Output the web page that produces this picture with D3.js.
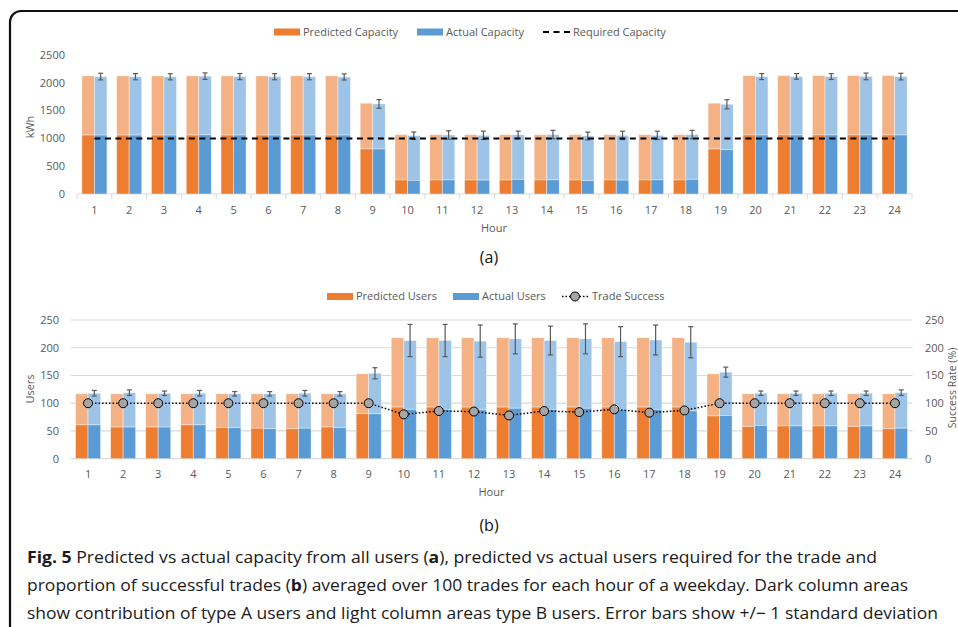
<!DOCTYPE html>
<html>
<head>
<meta charset="utf-8">
<script src="https://cdn.jsdelivr.net/npm/d3@7"></script>
<style>
  html, body { margin: 0; padding: 0; background: #fff; }
  svg { display: block; }
  text { font-family: "Open Sans", "Noto Sans", sans-serif; }
</style>
</head>
<body>
<svg id="fig" width="958" height="627"></svg>
<script>
// Hours of a weekday
const hours = d3.range(1, 25);

// (a) Capacity, kWh — type A (dark) and type B (light) contributions
const predCapA = [1060,1060,1060,1060,1060,1060,1060,1060,810,252,252,252,252,252,252,252,252,252,810,1062,1062,1062,1062,1062];
const predCapB = [1065,1065,1065,1065,1065,1065,1065,1065,823,815,815,815,815,815,815,815,815,815,823,1068,1068,1068,1068,1068];
const actCapA  = [1060,1060,1060,1065,1060,1060,1060,1060,810,245,255,250,264,255,240,250,255,264,798,1062,1062,1062,1062,1062];
const actCapB  = [1052,1050,1048,1055,1052,1050,1050,1045,810,804,807,805,801,815,804,805,800,806,816,1050,1053,1050,1053,1050];
const actCapSD = [60,55,55,58,55,55,55,55,78,66,75,75,66,75,69,75,75,75,82,54,51,52,60,60];
const requiredCapacity = 1000;
const capTicks = [0, 500, 1000, 1500, 2000, 2500];

// (b) Users — type A (dark) and type B (light) counts, plus trade success rate (%)
const predUsersA = [61,57,57,61,56,55,54,57,81,93,93,93,93,93,93,93,93,93,77,58,59,59,58,54];
const predUsersB = [56,60,60,56,61,62,63,60,72,125,125,125,125,125,125,125,125,125,76,59,58,58,59,63];
const actUsersA  = [61,57,57,61,56,54,55,56,81,89,89,88,91,89,91,89,89,86,78,60,59,59,59,55];
const actUsersB  = [57,62,61,57,61,63,63,61,73,124,124,124,125,124,125,122,125,124,78,58,59,59,59,64];
const actUsersSD = [5,5,4,5,4,4,5,4,10,29,29,29,27,26,27,27,27,28,9,4,4,4,4,5];
const tradeSuccess = [100,100,100,100,100,100,100,100,100,80,86,85,78,86,84,89,83,87,100,100,100,100,100,100];
const userTicks = [0, 50, 100, 150, 200, 250];

const captionLines = [
  [["Fig. 5", true], [" Predicted vs actual capacity from all users (", false], ["a", true], ["), predicted vs actual users required for the trade and", false]],
  [["proportion of successful trades (", false], ["b", true], [") averaged over 100 trades for each hour of a weekday. Dark column areas", false]],
  [["show contribution of type A users and light column areas type B users. Error bars show +/\u2212 1 standard deviation", false]]
];

const C = {
  orange: "#ED7D31", orangeLight: "#F4B183",
  blue: "#5B9BD5", blueLight: "#9DC3E6",
  grid: "#D9D9D9", text: "#595959", err: "#595959"
};

const svg = d3.select("#fig");

// Rounded figure frame
svg.append("rect")
  .attr("x", 10).attr("y", 11).attr("width", 1000).attr("height", 700)
  .attr("rx", 11).attr("fill", "none").attr("stroke", "#111").attr("stroke-width", 2.2);

function drawStackedPairs(g, x, y, series, barFrac) {
  const bw = x.bandwidth() * barFrac;
  series.forEach((s, si) => {
    const off = si === 0 ? -bw : 0;
    hours.forEach((h, i) => {
      const a = s.A[i], b = s.B[i];
      const x0 = x(h) + x.bandwidth() / 2 + off;
      g.append("rect")
        .attr("x", x0).attr("width", bw)
        .attr("y", y(a + b)).attr("height", y(a) - y(a + b))
        .attr("fill", s.light).attr("stroke", "#fff").attr("stroke-opacity", 0.5).attr("stroke-width", 0.8);
      g.append("rect")
        .attr("x", x0).attr("width", bw)
        .attr("y", y(a)).attr("height", y(0) - y(a))
        .attr("fill", s.dark).attr("stroke", "#fff").attr("stroke-opacity", 0.5).attr("stroke-width", 0.8);
    });
  });
  return bw;
}

function drawErrorBars(g, x, y, A, B, SD, bw, capW) {
  hours.forEach((h, i) => {
    const cx = x(h) + x.bandwidth() / 2 + bw / 2;
    const v = A[i] + B[i];
    const y1 = y(v + SD[i]), y2 = y(v - SD[i]);
    g.append("line").attr("x1", cx).attr("x2", cx).attr("y1", y1).attr("y2", y2)
      .attr("stroke", C.err).attr("stroke-width", 1.2);
    [y1, y2].forEach(yy => g.append("line")
      .attr("x1", cx - capW / 2).attr("x2", cx + capW / 2).attr("y1", yy).attr("y2", yy)
      .attr("stroke", C.err).attr("stroke-width", 1.2));
  });
}

function legendSwatch(g, x, y, color, label) {
  g.append("rect").attr("x", x).attr("y", y - 3.5).attr("width", 26).attr("height", 7).attr("fill", color);
  g.append("text").attr("x", x + 29).attr("y", y).attr("dy", "0.35em")
    .attr("font-size", 11).attr("fill", C.text).text(label);
}

// ---------- (a) capacity ----------
{
  const g = svg.append("g");
  const x = d3.scaleBand().domain(hours).range([77, 912]).padding(0);
  const y = d3.scaleLinear().domain([0, 2500]).range([194, 55]);

  // axis baseline and category separators
  g.append("line").attr("x1", 77).attr("x2", 912).attr("y1", y(0)).attr("y2", y(0))
    .attr("stroke", C.grid).attr("stroke-width", 1);
  hours.concat([25]).forEach((h, i) => {
    const xx = i < 24 ? x(h) : x(24) + x.bandwidth();
    g.append("line").attr("x1", xx).attr("x2", xx).attr("y1", y(0)).attr("y2", y(0) + 5)
      .attr("stroke", C.grid);
  });

  const bw = drawStackedPairs(g, x, y, [
    { A: predCapA, B: predCapB, dark: C.orange, light: C.orangeLight },
    { A: actCapA, B: actCapB, dark: C.blue, light: C.blueLight }
  ], 0.36);
  drawErrorBars(g, x, y, actCapA, actCapB, actCapSD, bw, 5);

  // required capacity
  g.append("line")
    .attr("x1", x(1) + x.bandwidth() / 2).attr("x2", x(24) + x.bandwidth() / 2)
    .attr("y1", y(requiredCapacity)).attr("y2", y(requiredCapacity))
    .attr("stroke", "#000").attr("stroke-width", 2).attr("stroke-dasharray", "6,4.5");

  // y ticks
  capTicks.forEach(t => g.append("text").attr("x", 65).attr("y", y(t)).attr("dy", "0.35em")
    .attr("text-anchor", "end").attr("font-size", 11).attr("fill", C.text).text(t));
  // x ticks
  hours.forEach(h => g.append("text").attr("x", x(h) + x.bandwidth() / 2).attr("y", 210).attr("dy", "0.35em")
    .attr("text-anchor", "middle").attr("font-size", 11).attr("fill", C.text).text(h));

  g.append("text").attr("transform", "translate(30,127) rotate(-90)").attr("dy", "0.35em")
    .attr("text-anchor", "middle").attr("font-size", 11).attr("fill", C.text).text("kWh");
  g.append("text").attr("x", 494).attr("y", 228).attr("dy", "0.35em")
    .attr("text-anchor", "middle").attr("font-size", 11).attr("fill", C.text).text("Hour");
  g.append("text").attr("x", 489).attr("y", 257).attr("dy", "0.35em")
    .attr("text-anchor", "middle").attr("font-size", 16).attr("fill", "#111").text("(a)");

  // legend
  legendSwatch(g, 274, 32, C.orange, "Predicted Capacity");
  legendSwatch(g, 417, 32, C.blue, "Actual Capacity");
  g.append("line").attr("x1", 543).attr("x2", 570).attr("y1", 32).attr("y2", 32)
    .attr("stroke", "#000").attr("stroke-width", 2).attr("stroke-dasharray", "6,4.5");
  g.append("text").attr("x", 573).attr("y", 32).attr("dy", "0.35em")
    .attr("font-size", 11).attr("fill", C.text).text("Required Capacity");
}

// ---------- (b) users ----------
{
  const g = svg.append("g");
  const x = d3.scaleBand().domain(hours).range([70.5, 912.5]).padding(0);
  const y = d3.scaleLinear().domain([0, 250]).range([458.7, 320]);
  const y2 = d3.scaleLinear().domain([0, 250]).range([458.7, 320]);

  userTicks.forEach(t => g.append("line").attr("x1", 70.5).attr("x2", 912.5)
    .attr("y1", y(t)).attr("y2", y(t)).attr("stroke", C.grid).attr("stroke-width", 1.2));

  const bw = drawStackedPairs(g, x, y, [
    { A: predUsersA, B: predUsersB, dark: C.orange, light: C.orangeLight },
    { A: actUsersA, B: actUsersB, dark: C.blue, light: C.blueLight }
  ], 0.357);
  drawErrorBars(g, x, y, actUsersA, actUsersB, actUsersSD, bw, 5);

  // trade success line
  const cx = h => x(h) + x.bandwidth() / 2;
  g.append("path")
    .attr("d", d3.line().x((d, i) => cx(hours[i])).y(d => y2(d))(tradeSuccess))
    .attr("fill", "none").attr("stroke", "#000").attr("stroke-width", 1.5).attr("stroke-dasharray", "1.5,2");
  g.selectAll("circle.ts").data(tradeSuccess).join("circle").attr("class", "ts")
    .attr("cx", (d, i) => cx(hours[i])).attr("cy", d => y2(d)).attr("r", 4.5)
    .attr("fill", "#A5A5A5").attr("stroke", "#000").attr("stroke-width", 1);

  userTicks.forEach(t => g.append("text").attr("x", 59).attr("y", y(t)).attr("dy", "0.35em")
    .attr("text-anchor", "end").attr("font-size", 11).attr("fill", C.text).text(t));
  userTicks.forEach(t => g.append("text").attr("x", 925).attr("y", y2(t)).attr("dy", "0.35em")
    .attr("text-anchor", "start").attr("font-size", 11).attr("fill", C.text).text(t));
  hours.forEach(h => g.append("text").attr("x", cx(h)).attr("y", 474).attr("dy", "0.35em")
    .attr("text-anchor", "middle").attr("font-size", 11).attr("fill", C.text).text(h));

  g.append("text").attr("transform", "translate(30,389) rotate(-90)").attr("dy", "0.35em")
    .attr("text-anchor", "middle").attr("font-size", 11).attr("fill", C.text).text("Users");
  g.append("text").attr("transform", "translate(952,388) rotate(-90)").attr("dy", "0.35em")
    .attr("text-anchor", "middle").attr("font-size", 10.5).attr("fill", C.text).text("Success Rate (%)");
  g.append("text").attr("x", 491.5).attr("y", 492).attr("dy", "0.35em")
    .attr("text-anchor", "middle").attr("font-size", 11).attr("fill", C.text).text("Hour");
  g.append("text").attr("x", 489).attr("y", 525).attr("dy", "0.35em")
    .attr("text-anchor", "middle").attr("font-size", 16).attr("fill", "#111").text("(b)");

  legendSwatch(g, 327, 296.5, C.orange, "Predicted Users");
  legendSwatch(g, 453, 296.5, C.blue, "Actual Users");
  g.append("line").attr("x1", 562).attr("x2", 588).attr("y1", 296.5).attr("y2", 296.5)
    .attr("stroke", "#000").attr("stroke-width", 1.5).attr("stroke-dasharray", "1.5,2");
  g.append("circle").attr("cx", 575).attr("cy", 296.5).attr("r", 4.5)
    .attr("fill", "#A5A5A5").attr("stroke", "#000");
  g.append("text").attr("x", 592).attr("y", 296.5).attr("dy", "0.35em")
    .attr("font-size", 11).attr("fill", C.text).text("Trade Success");
}

// ---------- caption ----------
{
  const baselines = [563, 591, 618.5];
  const widths = [850, 881, 911];
  captionLines.forEach((parts, li) => {
    const t = svg.append("text").attr("x", 27).attr("y", baselines[li])
      .attr("font-size", 16.5).attr("fill", "#1a1a1a")
      .attr("textLength", widths[li]).attr("lengthAdjust", "spacingAndGlyphs");
    parts.forEach(([s, bold]) => t.append("tspan").attr("font-weight", bold ? 700 : 400).text(s));
  });
}
</script>
</body>
</html>
